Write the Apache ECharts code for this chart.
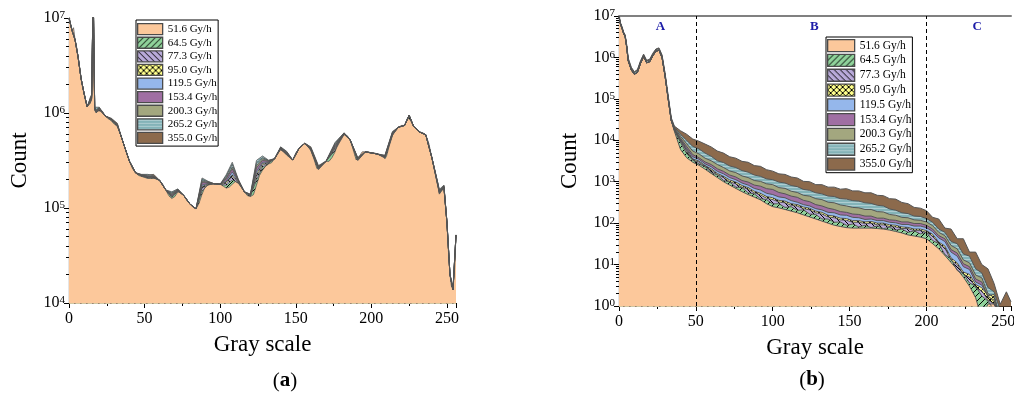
<!DOCTYPE html>
<html><head><meta charset="utf-8">
<script src="https://cdn.jsdelivr.net/npm/echarts@6/dist/echarts.min.js"></script>
<style>html,body{margin:0;padding:0;background:#fff}#c{width:1014px;height:394px}</style>
</head><body><div id="c"></div>
<script>
// ---------------- DATA ----------------
const legendNames = ['51.6 Gy/h','64.5 Gy/h','77.3 Gy/h','95.0 Gy/h','119.5 Gy/h','153.4 Gy/h','200.3 Gy/h','265.2 Gy/h','355.0 Gy/h'];
const regionBounds = [50, 200];
const regionLabels = ['A', 'B', 'C'];
const regionLabelX = [27, 127, 233];

// Panel (a): 51.6 Gy/h on a fine gray-scale grid
const aX51 = [0,1,2,3,4,5,6,7,8,9,
 10,11,12,13,14,15,16,17,18,19,
 20,22,24,26,28,29,30,32,33,34,
 36,38,40,42,44,46,48,50,52,54,
 56,58,60,62,64,66,68,70,72,74,
 76,78,80,82,84,86,88,90,92,94,
 96,98,100,102,104,106,108,110,112,114,
 116,118,120,122,124,126,128,130,132,134,
 136,138,140,142,144,146,148,150,152,154,
 156,158,160,162,164,165,166,168,170,172,
 174,176,178,180,182,184,186,188,190,191,
 192,194,196,198,200,202,204,206,208,209,
 210,212,214,216,218,220,222,224,225,226,
 228,230,232,234,236,238,240,242,244,245,
 246,248,249,250,251,252,253,254,255,256];
const a51 = [1.0e7,8.5e6,7.4e6,7.9e6,5.9e6,5.0e6,3.9e6,3.0e6,2.3e6,1.86e6,
 1.6e6,1.32e6,1.17e6,1.12e6,1.26e6,1.4e6,2e7,1.07e6,1.0e6,1.05e6,
 1.07e6,1.05e6,9.3e5,8.7e5,8.3e5,7.9e5,7.6e5,7.2e5,6.9e5,6.0e5,
 4.8e5,3.8e5,3.1e5,2.6e5,2.35e5,2.2e5,2.15e5,2.1e5,2.05e5,2.05e5,
 2.05e5,2.05e5,1.95e5,1.78e5,1.55e5,1.35e5,1.26e5,1.32e5,1.48e5,1.45e5,
 1.35e5,1.2e5,1.1e5,1.02e5,9.8e4,1.12e5,1.4e5,1.66e5,1.74e5,1.78e5,
 1.8e5,1.8e5,1.78e5,1.7e5,1.62e5,1.66e5,1.78e5,1.9e5,1.82e5,1.66e5,
 1.48e5,1.35e5,1.32e5,1.38e5,1.74e5,2.2e5,2.5e5,2.75e5,2.9e5,3.0e5,
 3.3e5,3.8e5,4.1e5,3.9e5,3.6e5,3.4e5,3.2e5,3.8e5,4.2e5,4.6e5,
 4.8e5,4.6e5,4.0e5,3.3e5,2.6e5,2.5e5,2.7e5,3.0e5,3.1e5,3.1e5,
 3.4e5,3.9e5,4.8e5,5.5e5,5.9e5,5.8e5,5.2e5,4.1e5,3.2e5,3.1e5,
 3.5e5,3.9e5,3.9e5,3.9e5,3.8e5,3.8e5,3.7e5,3.6e5,3.5e5,3.3e5,
 3.5e5,4.6e5,5.8e5,6.5e5,7.1e5,7.4e5,7.4e5,8.9e5,9.3e5,8.3e5,
 7.2e5,6.8e5,6.3e5,6.2e5,5.9e5,4.8e5,3.4e5,2.5e5,1.82e5,1.4e5,
 1.48e5,1.62e5,1.58e5,7.1e4,3.5e4,2.0e4,1.5e4,1.38e4,2.2e4,5.2e4];

// Panel (a): other dose rates on a coarser grid
const aXc = [0,2,4,6,8,10,12,13,14,15,
 16,17,18,20,24,28,32,34,36,40,
 44,48,52,56,60,64,68,72,76,80,
 84,88,92,96,100,104,108,112,116,120,
 124,128,132,136,140,144,148,152,156,160,
 165,170,176,182,186,191,196,200,204,209,
 214,218,222,225,228,232,236,240,245,248,
 250,252,254,256];
const a64 = [1.0e7,7.4e6,5.9e6,3.9e6,2.3e6,1.6e6,1.17e6,1.13e6,1.28e6,1.42e6,
 2e7,1.08e6,1.01e6,1.08e6,9.3e5,8.4e5,7.3e5,6.0e5,4.8e5,3.1e5,
 2.35e5,2.17e5,2.07e5,2.07e5,1.95e5,1.55e5,1.29e5,1.5e5,1.35e5,1.1e5,
 9.8e4,1.51e5,1.76e5,1.8e5,1.78e5,1.73e5,1.98e5,1.84e5,1.48e5,1.33e5,
 1.97e5,2.68e5,2.96e5,3.3e5,4.15e5,3.65e5,3.2e5,4.2e5,4.8e5,4.05e5,
 2.53e5,3.1e5,4.05e5,5.95e5,5.2e5,3.15e5,3.9e5,3.8e5,3.7e5,3.35e5,
 5.9e5,7.1e5,7.4e5,9.35e5,7.2e5,6.3e5,5.9e5,3.4e5,1.42e5,1.64e5,
 7.1e4,2.0e4,1.38e4,5.2e4];
const a77 = [1.0e7,7.4e6,5.9e6,3.9e6,2.3e6,1.6e6,1.17e6,1.14e6,1.3e6,1.44e6,
 2e7,1.09e6,1.02e6,1.09e6,9.3e5,8.5e5,7.3e5,6.0e5,4.8e5,3.1e5,
 2.35e5,2.18e5,2.09e5,2.08e5,1.95e5,1.55e5,1.31e5,1.51e5,1.35e5,1.1e5,
 9.8e4,1.61e5,1.78e5,1.8e5,1.78e5,1.81e5,2.14e5,1.87e5,1.48e5,1.34e5,
 2.14e5,2.83e5,2.99e5,3.3e5,4.2e5,3.7e5,3.2e5,4.2e5,4.8e5,4.1e5,
 2.56e5,3.1e5,4.2e5,6.0e5,5.2e5,3.2e5,3.9e5,3.8e5,3.7e5,3.4e5,
 5.95e5,7.1e5,7.4e5,9.4e5,7.2e5,6.3e5,5.9e5,3.4e5,1.44e5,1.65e5,
 7.1e4,2.0e4,1.38e4,5.2e4];
const a95 = [1.0e7,7.4e6,5.9e6,3.9e6,2.3e6,1.6e6,1.17e6,1.15e6,1.32e6,1.46e6,
 2e7,1.1e6,1.03e6,1.1e6,9.3e5,8.5e5,7.4e5,6.0e5,4.8e5,3.1e5,
 2.35e5,2.19e5,2.11e5,2.1e5,1.95e5,1.55e5,1.33e5,1.52e5,1.35e5,1.1e5,
 9.8e4,1.67e5,1.8e5,1.8e5,1.78e5,1.88e5,2.24e5,1.89e5,1.48e5,1.35e5,
 2.28e5,2.93e5,3.02e5,3.3e5,4.22e5,3.73e5,3.2e5,4.2e5,4.8e5,4.13e5,
 2.6e5,3.1e5,4.3e5,6.05e5,5.2e5,3.22e5,3.9e5,3.8e5,3.7e5,3.42e5,
 6.0e5,7.1e5,7.4e5,9.4e5,7.2e5,6.3e5,5.9e5,3.4e5,1.46e5,1.66e5,
 7.1e4,2.0e4,1.38e4,5.2e4];
const a119 = [1.0e7,7.4e6,5.9e6,3.9e6,2.3e6,1.6e6,1.17e6,1.16e6,1.34e6,1.48e6,
 2e7,1.11e6,1.04e6,1.11e6,9.3e5,8.6e5,7.4e5,6.0e5,4.8e5,3.1e5,
 2.35e5,2.2e5,2.14e5,2.12e5,1.95e5,1.55e5,1.35e5,1.53e5,1.35e5,1.1e5,
 9.8e4,1.74e5,1.82e5,1.8e5,1.78e5,1.93e5,2.4e5,1.91e5,1.48e5,1.36e5,
 2.42e5,3.03e5,3.05e5,3.3e5,4.25e5,3.76e5,3.2e5,4.2e5,4.8e5,4.16e5,
 2.63e5,3.1e5,4.4e5,6.1e5,5.2e5,3.25e5,3.9e5,3.8e5,3.7e5,3.45e5,
 6.1e5,7.1e5,7.4e5,9.45e5,7.2e5,6.3e5,5.9e5,3.4e5,1.48e5,1.67e5,
 7.1e4,2.0e4,1.38e4,5.2e4];
const a153 = [1.0e7,7.4e6,5.9e6,3.9e6,2.3e6,1.6e6,1.17e6,1.18e6,1.37e6,1.51e6,
 2e7,1.12e6,1.06e6,1.12e6,9.3e5,8.6e5,7.5e5,6.0e5,4.8e5,3.1e5,
 2.35e5,2.21e5,2.16e5,2.14e5,1.95e5,1.55e5,1.38e5,1.55e5,1.35e5,1.1e5,
 9.8e4,1.85e5,1.85e5,1.8e5,1.78e5,2.03e5,2.58e5,1.95e5,1.48e5,1.37e5,
 2.64e5,3.18e5,3.1e5,3.3e5,4.3e5,3.82e5,3.2e5,4.2e5,4.8e5,4.2e5,
 2.67e5,3.1e5,4.55e5,6.1e5,5.2e5,3.3e5,3.9e5,3.8e5,3.7e5,3.5e5,
 6.2e5,7.1e5,7.4e5,9.45e5,7.2e5,6.3e5,5.9e5,3.4e5,1.5e5,1.69e5,
 7.1e4,2.0e4,1.38e4,5.2e4];
const a200 = [1.0e7,7.4e6,5.9e6,3.9e6,2.3e6,1.6e6,1.17e6,1.2e6,1.4e6,1.53e6,
 2e7,1.13e6,1.07e6,1.13e6,9.3e5,8.7e5,7.6e5,6.0e5,4.8e5,3.1e5,
 2.35e5,2.22e5,2.18e5,2.16e5,1.95e5,1.55e5,1.41e5,1.56e5,1.35e5,1.1e5,
 9.8e4,1.92e5,1.87e5,1.8e5,1.78e5,2.09e5,2.69e5,1.97e5,1.48e5,1.38e5,
 2.8e5,3.3e5,3.13e5,3.3e5,4.33e5,3.86e5,3.2e5,4.2e5,4.8e5,4.25e5,
 2.7e5,3.1e5,4.65e5,6.15e5,5.2e5,3.33e5,3.9e5,3.8e5,3.7e5,3.53e5,
 6.25e5,7.1e5,7.4e5,9.5e5,7.2e5,6.3e5,5.9e5,3.4e5,1.52e5,1.7e5,
 7.1e4,2.0e4,1.38e4,5.2e4];
const a265 = [1.0e7,7.4e6,5.9e6,3.9e6,2.3e6,1.6e6,1.17e6,1.25e6,1.45e6,1.57e6,
 2e7,1.15e6,1.1e6,1.15e6,9.3e5,8.6e5,7.6e5,6.0e5,4.8e5,3.1e5,
 2.35e5,2.26e5,2.26e5,2.18e5,1.95e5,1.55e5,1.48e5,1.59e5,1.35e5,1.1e5,
 9.8e4,2.07e5,1.91e5,1.8e5,1.78e5,2.24e5,3.03e5,2.0e5,1.48e5,1.4e5,
 3.17e5,3.53e5,3.19e5,3.3e5,4.4e5,3.95e5,3.2e5,4.2e5,4.8e5,4.3e5,
 2.73e5,3.1e5,4.9e5,6.2e5,5.2e5,3.4e5,3.9e5,3.8e5,3.7e5,3.6e5,
 6.4e5,7.1e5,7.4e5,9.5e5,7.2e5,6.3e5,5.9e5,3.4e5,1.57e5,1.74e5,
 7.1e4,2.0e4,1.38e4,5.2e4];
const a355 = [1.0e7,7.4e6,5.9e6,3.9e6,2.3e6,1.6e6,1.17e6,1.22e6,1.42e6,1.55e6,
 2e7,1.14e6,1.08e6,1.14e6,9.3e5,8.8e5,7.8e5,6.0e5,4.8e5,3.1e5,
 2.35e5,2.24e5,2.22e5,2.26e5,1.95e5,1.55e5,1.44e5,1.57e5,1.35e5,1.1e5,
 9.8e4,1.99e5,1.89e5,1.8e5,1.78e5,2.17e5,2.88e5,1.98e5,1.48e5,1.39e5,
 2.98e5,3.4e5,3.16e5,3.3e5,4.36e5,3.9e5,3.2e5,4.2e5,4.8e5,4.4e5,
 2.8e5,3.1e5,4.8e5,6.15e5,5.2e5,3.36e5,3.9e5,3.8e5,3.7e5,3.56e5,
 6.3e5,7.1e5,7.4e5,9.5e5,7.2e5,6.3e5,5.9e5,3.4e5,1.54e5,1.72e5,
 7.1e4,2.0e4,1.38e4,5.2e4];

// Panel (b)
const bX = [0,1,2,3,4,5,6,8,10,12,14,16,18,20,22,24,26,28,30,32,34,
 36,40,44,48,52,56,60,64,68,72,76,80,84,88,92,96,100,104,108,112,
 116,120,124,128,132,136,140,144,148,152,156,160,164,168,172,176,
 180,184,188,192,196,200,204,208,212,216,220,224,228,232,236,240,
 244,248,252,255];
// gray scale 0-34 (peak region, shared by the lower dose rates)
const bHead = [9.5e6,6.3e6,5.0e6,3.8e6,3.2e6,1.8e6,8.3e5,5.0e5,3.9e5,4.4e5,7.2e5,1.05e6,7.4e5,7.9e5,1.1e6,1.4e6,1.5e6,1.0e6,3.5e5,1.0e5,3.0e4];
const bHead265 = [9.8e6,6.6e6,5.3e6,4.0e6,3.4e6,1.95e6,9.1e5,5.5e5,4.3e5,4.85e5,7.9e5,1.15e6,8.1e5,8.7e5,1.2e6,1.53e6,1.63e6,1.1e6,3.9e5,1.12e5,3.3e4];
const bHead355 = [1.0e7,6.8e6,5.5e6,4.1e6,3.5e6,2.05e6,9.6e5,5.8e5,4.5e5,5.1e5,8.3e5,1.2e6,8.5e5,9.1e5,1.26e6,1.6e6,1.7e6,1.15e6,4.1e5,1.18e5,3.5e4];
// gray scale 36-255
const b51 = [1.66e4,6.0e3,3.8e3,2.95e3,2.5e3,2.0e3,1.58e3,1.26e3,1.0e3,830,
 690,575,490,425,365,295,250,234,214,195,
 178,158,141,126,112,100,89,83,78,76,
 76,76,76,74,72,68,63,58,52,49,
 46,42,32,24,16.6,11.2,7.6,5.0,3.0,1.58,
 0.5,1.12,1.12,0.5,0.5,0.5];
const b64 = [1.74e4,8.9e3,4.8e3,3.3e3,2.7e3,2.3e3,1.66e3,1.45e3,1.07e3,980,
 740,720,540,510,390,370,290,295,240,250,
 204,209,166,162,126,126,105,107,89,95,
 81,89,78,85,74,79,68,72,60,65,
 55,60,38,32,17.4,13.8,7.2,6.0,3.6,3.0,
 1.74,1.32,0.8,0.5,0.5,0.5];
const b77 = [1.78e4,9.5e3,5.5e3,3.3e3,3.0e3,2.3e3,1.9e3,1.48e3,1.26e3,1.0e3,
 890,740,660,540,480,400,370,325,310,270,
 257,224,209,178,166,141,135,120,117,105,
 105,98,100,91,91,83,81,74,74,66,
 66,60,49,32,25,12.6,10,5.8,5.0,2.75,
 2.3,1.4,1.12,0.5,0.5,0.5];
const b95 = [1.82e4,1.0e4,5.9e3,3.55e3,3.16e3,2.45e3,2.05e3,1.58e3,1.35e3,1.1e3,
 980,810,720,590,525,440,410,355,340,295,
 280,245,229,195,182,155,148,132,129,115,
 115,107,110,100,100,91,89,81,79,72,
 72,66,54,35,28,14.5,11,6.6,5.8,3.3,
 2.75,1.78,1.9,0.5,0.5,0.5];
const b119 = [1.86e4,1.05e4,6.3e3,4.0e3,3.5e3,2.7e3,2.3e3,1.78e3,1.55e3,1.26e3,
 1.12e3,930,830,690,630,525,490,430,410,350,
 320,280,260,224,209,182,178,158,155,138,
 135,123,126,115,115,105,102,93,93,85,
 85,78,63,44,36,20,16,8.9,7.6,3.8,
 3.2,1.78,1.26,0.5,0.5,0.5];
const b153 = [1.9e4,1.12e4,7.1e3,4.5e3,3.8e3,3.0e3,2.6e3,2.05e3,1.78e3,1.45e3,
 1.3e3,1.07e3,980,830,780,680,650,550,510,450,
 420,355,330,280,260,230,214,190,182,166,
 162,148,148,132,132,120,117,107,107,98,
 98,89,72,50,42,23,19,10.5,8.9,4.5,
 3.8,1.66,1.4,0.5,0.5,0.5];
const b200 = [2.0e4,1.26e4,8.3e3,5.5e3,4.7e3,3.7e3,3.2e3,2.6e3,2.2e3,1.82e3,
 1.66e3,1.38e3,1.26e3,1.07e3,1.02e3,890,850,720,690,590,
 550,470,450,390,370,320,310,275,260,240,
 234,214,214,190,186,162,155,138,135,120,
 117,107,87,60,50,29,24,13,11,5.6,
 4.8,2.0,1.6,0.5,0.5,0.5];
const b265 = [2.1e4,1.4e4,1.0e4,7.1e3,6.2e3,4.9e3,4.1e3,3.2e3,2.9e3,2.4e3,
 2.2e3,1.86e3,1.7e3,1.45e3,1.35e3,1.17e3,1.12e3,980,930,810,
 760,650,620,540,510,450,440,390,380,350,
 340,310,300,270,260,220,205,178,170,148,
 145,129,105,72,60,36,32,18,16,7.9,
 6.3,2.8,2.2,0.8,0.5,0.5];
const b355 = [2.2e4,1.7e4,1.4e4,1.07e4,9.5e3,8.1e3,6.9e3,5.5e3,4.9e3,4.0e3,
 3.7e3,3.1e3,2.95e3,2.45e3,2.35e3,1.95e3,1.8e3,1.55e3,1.5e3,1.3e3,
 1.23e3,1.02e3,1.0e3,850,850,740,740,660,680,600,
 600,540,540,470,460,390,380,316,295,240,
 230,200,138,126,76,72,42,42,20,20,
 10,7.9,3.5,1.1,2.2,1.26];

// ---------------- STYLE ----------------
const F = '"Liberation Serif", "Times New Roman", serif';
const baseColors = ['#FCC89B','#8FD29A','#B8A9D9','#FFFF8C','#95B7EB','#A06FA3','#A3A77F','#83B3B8','#8C6A4C'];
const textures = [null,'fwd','back','cross',null,null,null,'hl',null];

function makeFill(bg, kind) {
  if (!kind) return bg;
  const s = 6;
  const c = document.createElement('canvas');
  c.width = s; c.height = s;
  const g = c.getContext('2d');
  g.fillStyle = bg; g.fillRect(0, 0, s, s);
  g.beginPath();
  if (kind === 'hl') {
    g.strokeStyle = 'rgba(255,255,255,0.35)'; g.lineWidth = 1;
    g.moveTo(0, 1.5); g.lineTo(s, 1.5); g.moveTo(0, 4.5); g.lineTo(s, 4.5);
  } else {
    g.strokeStyle = '#000'; g.lineWidth = 1;
    if (kind === 'fwd' || kind === 'cross') {
      g.moveTo(-1, s + 1); g.lineTo(s + 1, -1);
      g.moveTo(-1, 1); g.lineTo(1, -1);
      g.moveTo(s - 1, s + 1); g.lineTo(s + 1, s - 1);
    }
    if (kind === 'back' || kind === 'cross') {
      g.moveTo(-1, -1); g.lineTo(s + 1, s + 1);
      g.moveTo(s - 1, -1); g.lineTo(s + 1, 1);
      g.moveTo(-1, s - 1); g.lineTo(1, s + 1);
    }
  }
  g.stroke();
  return { image: c, repeat: 'repeat' };
}
const fills = baseColors.map((c, i) => makeFill(c, textures[i]));

const zip = (xs, ys) => xs.map((x, i) => [x, ys[i]]);
const aSeriesData = [
  zip(aX51, a51), zip(aXc, a64), zip(aXc, a77), zip(aXc, a95), zip(aXc, a119),
  zip(aXc, a153), zip(aXc, a200), zip(aXc, a265), zip(aXc, a355)
];
const bSeriesData = [
  zip(bX, bHead.concat(b51)), zip(bX, bHead.concat(b64)), zip(bX, bHead.concat(b77)),
  zip(bX, bHead.concat(b95)), zip(bX, bHead.concat(b119)), zip(bX, bHead.concat(b153)),
  zip(bX, bHead.concat(b200)), zip(bX, bHead265.concat(b265)), zip(bX, bHead355.concat(b355))
];

function mkSeries(panel, i) {
  const s = {
    type: 'line', name: legendNames[i],
    xAxisIndex: panel, yAxisIndex: panel,
    data: panel === 0 ? aSeriesData[i] : bSeriesData[i],
    symbol: 'none', showSymbol: false, silent: true, animation: false,
    itemStyle: { color: baseColors[i] },
    lineStyle: { color: '#555555', width: panel === 0 ? 0.8 : 1 },
    areaStyle: { color: fills[i], opacity: 1, origin: panel === 0 ? 100 : 0.01 }
  };
  if (panel === 1 && i === 0) {
    s.markLine = {
      silent: true, symbol: 'none', animation: false,
      label: { show: false },
      lineStyle: { type: [4, 3], color: '#000', width: 1 },
      data: regionBounds.map(v => ({ xAxis: v }))
    };
    s.markPoint = {
      silent: true, symbol: 'circle', symbolSize: 1, animation: false,
      itemStyle: { color: 'rgba(0,0,0,0)' },
      label: { show: true, position: 'inside', formatter: '{b}', color: '#1c1ca8',
               fontFamily: F, fontWeight: 'bold', fontSize: 13 },
      data: regionLabels.map((n, k) => ({ name: n, coord: [regionLabelX[k], 5.4e6] }))
    };
  }
  return s;
}
const series = [];
for (let i = 8; i >= 0; i--) series.push(mkSeries(0, i));
for (let i = 8; i >= 0; i--) series.push(mkSeries(1, i));

function minorLogTicks(d0, d1) {
  const out = [];
  for (let d = d0; d < d1; d++) for (let k = 2; k <= 9; k++) out.push(d + Math.log10(k));
  return out;
}

const supLabel = {
  fontFamily: F, color: '#000', margin: 4,
  formatter: v => '{m|10}{s|' + Math.round(Math.log10(v)) + '}',
  rich: {
    m: { fontFamily: F, fontSize: 16, color: '#000', lineHeight: 16 },
    s: { fontFamily: F, fontSize: 11, color: '#000', lineHeight: 11, verticalAlign: 'top' }
  }
};
const nameStyle = { fontFamily: F, fontSize: 23, color: '#000' };

function xAxisMain(grid, max) {
  return {
    type: 'value', gridIndex: grid, min: 0, max: max, interval: 50, position: 'bottom',
    axisLine: { show: true, onZero: false, lineStyle: { color: '#000', width: 1.2 } },
    axisTick: { show: true, length: 5, lineStyle: { color: '#000' } },
    minorTick: { show: true, splitNumber: 2, length: 3, lineStyle: { color: '#000' } },
    axisLabel: { fontFamily: F, fontSize: 16, color: '#000', margin: 8 },
    splitLine: { show: false }, minorSplitLine: { show: false },
    name: 'Gray scale', nameLocation: 'middle', nameGap: 30, nameTextStyle: nameStyle
  };
}
function yAxisMain(grid, min, max) {
  return {
    type: 'log', logBase: 10, gridIndex: grid, min: min, max: max, position: 'left',
    axisLine: { show: true, onZero: false, lineStyle: { color: '#000', width: 1.2 } },
    axisTick: { show: true, length: 5, lineStyle: { color: '#000' } },
    axisLabel: supLabel, splitLine: { show: false },
    name: 'Count', nameLocation: 'middle', nameGap: 38, nameTextStyle: nameStyle
  };
}
function yAxisMinor(grid, d0, d1) {
  return {
    type: 'value', gridIndex: grid, min: d0, max: d1, position: 'left',
    axisLine: { show: false },
    axisTick: { show: true, length: 3, customValues: minorLogTicks(d0, d1), lineStyle: { color: '#000' } },
    axisLabel: { show: false }, splitLine: { show: false }
  };
}
function legendFor(left, top, iw, ih, gap, fs, pad) {
  return {
    orient: 'vertical', left: left, top: top, icon: 'rect',
    itemWidth: iw, itemHeight: ih, itemGap: gap, selectedMode: false,
    padding: pad, borderColor: '#000', borderWidth: 1, backgroundColor: '#fff',
    textStyle: { fontFamily: F, fontSize: fs, color: '#000' },
    data: legendNames.map((n, i) => ({ name: n, itemStyle: { color: fills[i], borderColor: '#4b4b4b', borderWidth: 1.3 } }))
  };
}

const option = {
  backgroundColor: '#fff',
  animation: false,
  grid: [
    { left: 69, top: 18, width: 387, height: 285, outerBoundsMode: 'none', containLabel: false },
    { left: 619, top: 16, width: 392, height: 290, outerBoundsMode: 'none', containLabel: false }
  ],
  xAxis: [
    xAxisMain(0, 256),
    xAxisMain(1, 255),
    { type: 'value', gridIndex: 1, min: 0, max: 255, position: 'top',
      axisLine: { show: true, onZero: false, lineStyle: { color: '#808080', width: 2 } },
      axisTick: { show: false }, axisLabel: { show: false }, splitLine: { show: false } }
  ],
  yAxis: [
    yAxisMain(0, 1e4, 1e7),
    yAxisMain(1, 1, 1e7),
    yAxisMinor(0, 4, 7),
    yAxisMinor(1, 0, 7)
  ],
  legend: [
    legendFor(136, 20, 25, 11, 1.3, 11, [3, 1, 2, 1]),
    legendFor(826, 37, 27, 12, 1.5, 11.5, [2, 1, 2, 1])
  ],
  graphic: [
    { type: 'text', x: 285, y: 381, style: { text: '({b|a})', fontFamily: F, fontSize: 21, fill: '#000',
      align: 'center', verticalAlign: 'middle', rich: { b: { fontFamily: F, fontSize: 21, fontWeight: 'bold', fill: '#000' } } } },
    { type: 'text', x: 812, y: 380, style: { text: '({b|b})', fontFamily: F, fontSize: 21, fill: '#000',
      align: 'center', verticalAlign: 'middle', rich: { b: { fontFamily: F, fontSize: 21, fontWeight: 'bold', fill: '#000' } } } }
  ],
  series: series
};
const chart = echarts.init(document.getElementById('c'), null, { renderer: 'canvas' });
chart.setOption(option);
</script></body></html>
